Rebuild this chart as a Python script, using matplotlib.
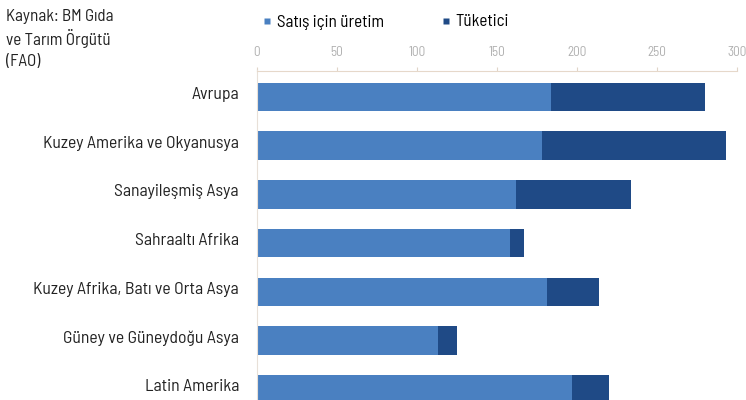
import matplotlib
matplotlib.use("Agg")
import matplotlib.pyplot as plt
from matplotlib.lines import Line2D
from matplotlib.font_manager import FontProperties
from matplotlib.transforms import ScaledTranslation

categories = ["Avrupa", "Kuzey Amerika ve Okyanusya", "Sanayileşmiş Asya",
              "Sahraaltı Afrika", "Kuzey Afrika, Batı ve Orta Asya",
              "Güney ve Güneydoğu Asya", "Latin Amerika"]
production = [184, 178, 162, 158, 181, 113, 197]
consumer = [96, 115, 72, 9, 33, 12, 23]
ticks = [0, 50, 100, 150, 200, 250, 300]
series_names = ["Satış için üretim", "Tüketici"]
source_lines = ["Kaynak: BM Gıda", "ve Tarım Örgütü", "(FAO)"]

light = "#4a80c1"
dark = "#1f4a86"
FONT = ["Barlow Semi Condensed", "Barlow Condensed", "DejaVu Sans"]

fig = plt.figure(figsize=(7.46, 4.0), dpi=100)
W, H = 746, 400
ax = fig.add_axes([257 / W, 0, (737 - 257) / W, 1 - 70.5 / H])

y = list(range(len(categories)))
ax.barh(y, production, height=0.585, color=light, edgecolor="none")
ax.barh(y, consumer, left=production, height=0.585, color=dark, edgecolor="none")

ax.set_xlim(0, 300)
ax.set_ylim(6.22, -0.542)
ax.xaxis.tick_top()
ax.set_xticks(ticks)
ax.set_xticklabels([str(t) for t in ticks], color="#b0b0b0",
                   fontproperties=FontProperties(family=FONT, size=9.5))
ax.tick_params(axis="x", length=3, color="#e0d4c8", pad=5)
ax.set_yticks(y)
ax.set_yticklabels(categories, color="#222222",
                   fontproperties=FontProperties(family=FONT, size=12.7))
ax.tick_params(axis="y", length=0, pad=13)
shift = ScaledTranslation(0, 4 / 100, fig.dpi_scale_trans)
for lbl in ax.get_yticklabels():
    lbl.set_transform(lbl.get_transform() + shift)
for s in ["right", "bottom"]:
    ax.spines[s].set_visible(False)
ax.spines["top"].set_color("#e6d8ca")
ax.spines["left"].set_color("#e8e0d8")
ax.spines["left"].set_linewidth(0.8)

for i, line in enumerate(source_lines):
    fig.text(6 / W, 1 - (16 + 23 * i) / H, line, color="#222222",
             va="center", ha="left",
             fontproperties=FontProperties(family=FONT, size=12.3))

handles = [Line2D([], [], marker="s", linestyle="none", markersize=5,
                  markerfacecolor=c, markeredgecolor="none") for c in (light, dark)]
fig.legend(handles, series_names, loc="center left",
           bbox_to_anchor=(260 / W, 1 - 22 / H), ncol=2, frameon=False,
           prop=FontProperties(family=FONT, size=12.3), handletextpad=0.2,
           columnspacing=3.2, handlelength=0.8, borderpad=0, borderaxespad=0)

fig.savefig("out.png", dpi=100, facecolor="white")
